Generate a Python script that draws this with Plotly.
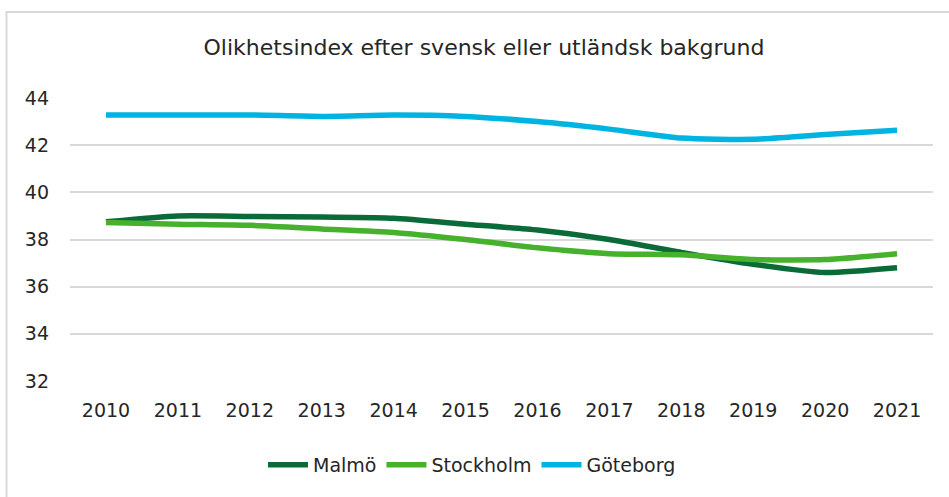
import plotly.graph_objects as go

years = ["2010", "2011", "2012", "2013", "2014", "2015", "2016", "2017", "2018", "2019", "2020", "2021"]
malmo = [38.75, 39.0, 38.98, 38.95, 38.9, 38.65, 38.4, 38.0, 37.45, 36.95, 36.6, 36.8]
stockholm = [38.72, 38.65, 38.6, 38.45, 38.3, 38.0, 37.65, 37.4, 37.35, 37.15, 37.15, 37.4]
goteborg = [43.28, 43.28, 43.28, 43.22, 43.28, 43.22, 43.0, 42.68, 42.3, 42.25, 42.45, 42.63]
names = ["Malmö", "Stockholm", "Göteborg"]
colors = ["#0A6B38", "#46B12D", "#00B4E1"]
title_text = "Olikhetsindex efter svensk eller utländsk bakgrund"
yticks = [32, 34, 36, 38, 40, 42, 44]

FONT = "DejaVu Sans"
fig = go.Figure()
for name, vals, col in zip(names, [malmo, stockholm, goteborg], colors):
    fig.add_trace(go.Scatter(x=years, y=vals, name=name, mode="lines",
                             line=dict(color=col, width=5.5, shape="spline", smoothing=0.6)))

W, H = 949, 497
L, R, T, B = 70, 16, 98, 116
pw, ph = W - L - R, H - T - B

def px_x(p):
    return (p - L) / pw

def px_y(p):
    return (H - B - p) / ph

fig.update_layout(
    width=W, height=H,
    margin=dict(l=L, r=R, t=T, b=B),
    paper_bgcolor="white", plot_bgcolor="white",
    font=dict(family=FONT, size=18, color="#404040"),
    title=dict(text=title_text, x=px_x(484), xanchor="center", y=1 - 47 / H, yanchor="middle",
               xref="paper", yref="container",
               font=dict(family=FONT, size=22, color="#262626")),
    showlegend=True,
    legend=dict(orientation="h", x=px_x(472), xanchor="center", y=px_y(465), yanchor="middle",
                font=dict(family=FONT, size=19, color="#262626"), itemwidth=40,
                bgcolor="rgba(0,0,0,0)"),
    xaxis=dict(type="category", showgrid=False, showline=False, ticks="",
               tickfont=dict(family=FONT, size=19, color="#262626"), ticklabelstandoff=16,
               range=[-0.5, 11.5], fixedrange=True),
    yaxis=dict(range=[32, 44], tickvals=yticks, showgrid=True, gridcolor="#D9D9D9", gridwidth=1.5,
               zeroline=False, showline=False, ticks="",
               tickfont=dict(family=FONT, size=19, color="#262626"), ticklabelstandoff=20),
    shapes=[dict(type="rect", xref="paper", yref="paper",
                 x0=px_x(6.5), x1=px_x(1000), y0=px_y(560), y1=px_y(12),
                 line=dict(color="#D9D9D9", width=2), fillcolor="rgba(0,0,0,0)", layer="below")],
)
fig.write_html("out.html", config={"displayModeBar": False},
               post_script="document.body.style.margin='0';")
